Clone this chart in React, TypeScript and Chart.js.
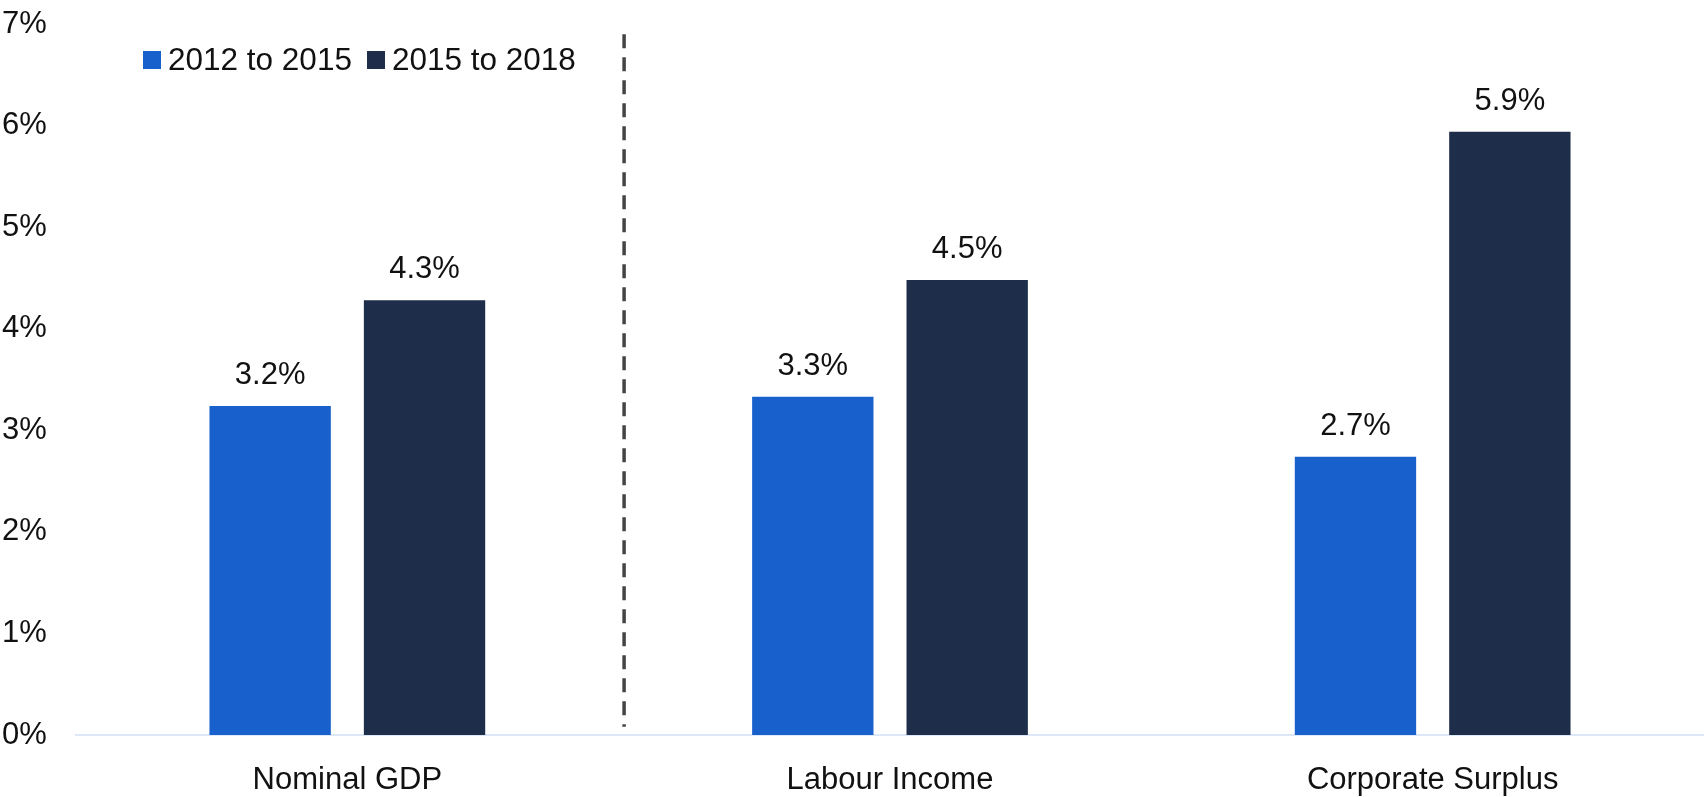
import { Chart, registerables } from "chart.js";
import { useEffect, useRef } from "react";

Chart.register(...registerables);

const categories = ["Nominal GDP", "Labour Income", "Corporate Surplus"];
const seriesLabels = ["2012 to 2015", "2015 to 2018"];
const growth2012to2015 = [3.24, 3.33, 2.74];
const growth2015to2018 = [4.28, 4.48, 5.94];
const seriesColors = ["#1860CC", "#1E2D4A"];
const yTicks = [0, 1, 2, 3, 4, 5, 6, 7];

const FONT = "'Liberation Sans', Arial, Helvetica, sans-serif";

// value labels above each bar
const valueLabels = {
  id: "valueLabels",
  afterDatasetsDraw(chart: any) {
    const { ctx } = chart;
    ctx.save();
    ctx.font = `31px ${FONT}`;
    ctx.fillStyle = "#111";
    ctx.textAlign = "center";
    ctx.textBaseline = "alphabetic";
    chart.data.datasets.forEach((ds: any, i: number) => {
      chart.getDatasetMeta(i).data.forEach((bar: any, j: number) => {
        ctx.fillText(`${ds.data[j].toFixed(1)}%`, bar.x, bar.y - 22);
      });
    });
    ctx.restore();
  },
};

// dashed divider between first and second category
const divider = {
  id: "divider",
  afterDraw(chart: any) {
    const { ctx, scales } = chart;
    const x = scales.x.getPixelForValue(0.51);
    ctx.save();
    ctx.strokeStyle = "#444";
    ctx.lineWidth = 3.5;
    ctx.setLineDash([14, 9]);
    ctx.beginPath();
    ctx.moveTo(x, scales.y.getPixelForValue(6.9));
    ctx.lineTo(x, scales.y.getPixelForValue(0.08));
    ctx.stroke();
    ctx.restore();
  },
};

const App = () => {
  const chartRef = useRef<HTMLCanvasElement>(null);
  const chartInstance = useRef<Chart | null>(null);

  useEffect(() => {
    const canvas = chartRef.current;
    if (!canvas) return;
    const ctx = canvas.getContext("2d");
    if (!ctx) return;

    if (chartInstance.current) chartInstance.current.destroy();

    chartInstance.current = new Chart(ctx, {
      type: "bar",
      data: {
        labels: categories,
        datasets: [
          {
            label: seriesLabels[0],
            data: growth2012to2015,
            backgroundColor: seriesColors[0],
            categoryPercentage: 0.569,
            barPercentage: 0.786,
          },
          {
            label: seriesLabels[1],
            data: growth2015to2018,
            backgroundColor: seriesColors[1],
            categoryPercentage: 0.569,
            barPercentage: 0.786,
          },
        ],
      },
      options: {
        animation: false,
        responsive: true,
        maintainAspectRatio: false,
        layout: { padding: { top: 24, left: 2, right: 0, bottom: 0 } },
        plugins: { legend: { display: false }, tooltip: { enabled: false } },
        scales: {
          x: {
            grid: { display: false },
            border: { display: true, color: "#DCE8F8", width: 2 },
            ticks: {
              font: { family: FONT, size: 31 },
              color: "#111",
              padding: 19,
            },
            afterFit: (scale: any) => {
              scale.height = 62;
            },
          },
          y: {
            min: 0,
            max: 7,
            grid: { display: false },
            border: { display: false },
            afterBuildTicks: (scale: any) => {
              scale.ticks = yTicks.map((v) => ({ value: v }));
            },
            ticks: {
              font: { family: FONT, size: 31 },
              color: "#111",
              crossAlign: "far",
              padding: 0,
              callback: (v: any) => `${v}%`,
            },
            afterFit: (scale: any) => {
              scale.width = 74;
            },
          },
        },
      },
      plugins: [valueLabels, divider],
    });

    return () => {
      if (chartInstance.current) {
        chartInstance.current.destroy();
        chartInstance.current = null;
      }
    };
  }, []);

  const box = (color: string) => (
    <span style={{ display: "inline-block", width: 18, height: 18, background: color }} />
  );

  return (
    <div style={{ position: "fixed", left: 0, top: 0, width: "100vw", height: "100vh", background: "#fff" }}>
      <canvas ref={chartRef} />
      <div
        style={{
          position: "absolute",
          left: 143,
          top: 44,
          display: "flex",
          alignItems: "center",
          fontFamily: FONT,
          fontSize: 31.5,
          lineHeight: "31px",
          color: "#111",
        }}
      >
        {box(seriesColors[0])}
        <span style={{ marginLeft: 7, marginRight: 15 }}>{seriesLabels[0]}</span>
        {box(seriesColors[1])}
        <span style={{ marginLeft: 7 }}>{seriesLabels[1]}</span>
      </div>
    </div>
  );
};

export default App;
